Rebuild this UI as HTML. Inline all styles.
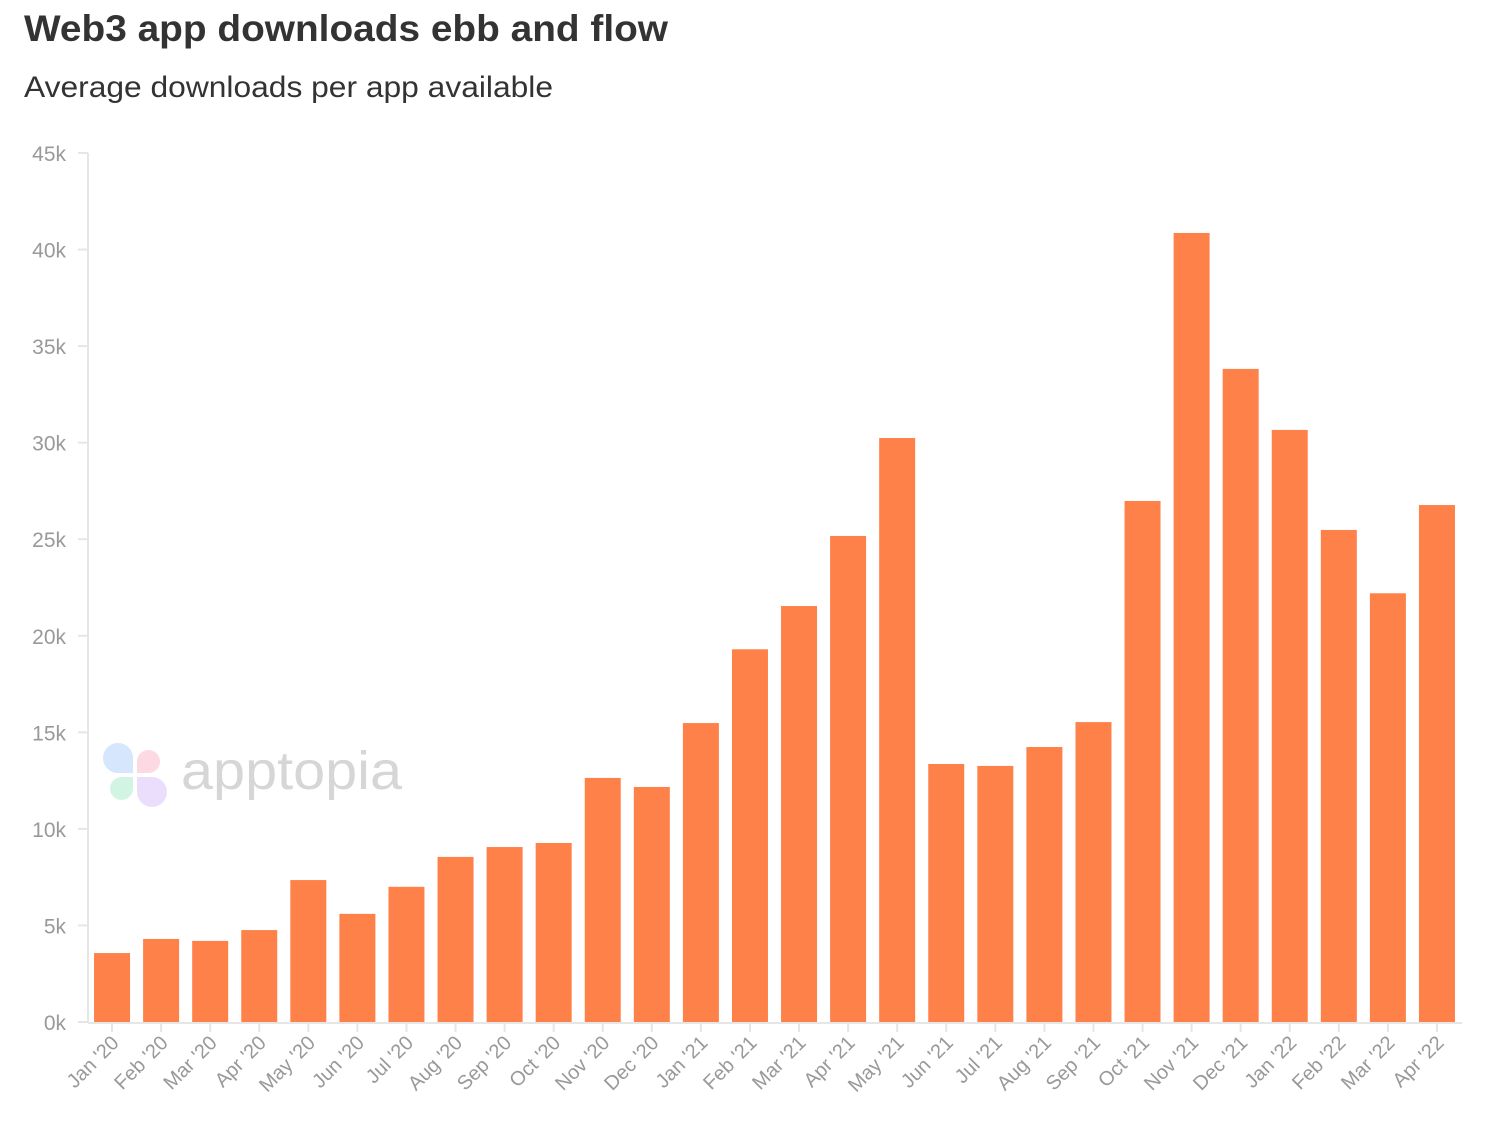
<!DOCTYPE html>
<html><head><meta charset="utf-8"><style>
body{margin:0;background:#fff;width:1500px;height:1128px;overflow:hidden;font-family:"Liberation Sans",sans-serif}
</style></head><body>
<svg width="1500" height="1128" xmlns="http://www.w3.org/2000/svg">
<text x="24" y="41" font-size="37" font-weight="bold" fill="#333" textLength="644" lengthAdjust="spacingAndGlyphs">Web3 app downloads ebb and flow</text>
<text x="24" y="97" font-size="30" fill="#333" textLength="529" lengthAdjust="spacingAndGlyphs">Average downloads per app available</text>
<g>
<path d="M118 743a15 15 0 0 1 15 15v15h-15a15 15 0 0 1 0-30z" fill="#d6e6fd"/>
<path d="M137 773v-12a11.5 11.5 0 1 1 11.5 12z" fill="#fdd9e3"/>
<path d="M133 777v12a11.5 11.5 0 1 1-11.5-12z" fill="#d2f5e3"/>
<path d="M137 777h15a15 15 0 1 1-15 15z" fill="#ebdefc"/>
<text x="181" y="789" font-size="54" fill="#d6d6d6" textLength="221" lengthAdjust="spacingAndGlyphs">apptopia</text>
</g>
<g id="yaxis"></g>
<g id="bars"></g>
<g id="xaxis"></g>
</svg>
<script>
const categories=["Jan '20","Feb '20","Mar '20","Apr '20","May '20","Jun '20","Jul '20","Aug '20","Sep '20","Oct '20","Nov '20","Dec '20","Jan '21","Feb '21","Mar '21","Apr '21","May '21","Jun '21","Jul '21","Aug '21","Sep '21","Oct '21","Nov '21","Dec '21","Jan '22","Feb '22","Mar '22","Apr '22"];
const values=[3570,4300,4200,4760,7350,5600,7000,8550,9060,9270,12640,12170,15480,19300,21540,25170,30240,13360,13260,14240,15530,26980,40860,33820,30660,25480,22200,26770];
const yTicks=[0,5000,10000,15000,20000,25000,30000,35000,40000,45000];
const yTickLabels=["0k","5k","10k","15k","20k","25k","30k","35k","40k","45k"];
const NS="http://www.w3.org/2000/svg";
const y0=1022,yTop=153,yMax=45000,xL=88,xR=1462;
const y=v=>y0-(v/yMax)*(y0-yTop);
const step=(xR-xL)/categories.length;
const xc=i=>xL+step*(i+0.5)-0.5;
const bw=36;
function mk(t,a,p){const e=document.createElementNS(NS,t);for(const k in a)e.setAttribute(k,a[k]);p.appendChild(e);return e;}
const ya=document.getElementById('yaxis'),ba=document.getElementById('bars'),xa=document.getElementById('xaxis');
const axl=mk('line',{x1:xL,x2:xL,y1:yTop,y2:y0,stroke:'#e6e6e6','stroke-width':2},ya);


yTicks.forEach((v,i)=>{
 const t=mk('text',{x:66,y:y(v)+8,'font-size':21,fill:'#999','text-anchor':'end'},ya);
 t.textContent=yTickLabels[i];
 
 
 const tk=mk('line',{x1:xL-10,x2:xL,y1:y(v),y2:y(v),stroke:'#e6e6e6','stroke-width':2},ya);
 
 
});
const xl=mk('line',{x1:xL,x2:xR,y1:y0+1,y2:y0+1,stroke:'#e6e6e6','stroke-width':2},xa);


values.forEach((v,i)=>{
 const r=mk('rect',{x:xc(i)-bw/2,y:y(v),width:bw,height:y0-y(v),fill:'#ff814a'},ba);
 
 
});
categories.forEach((c,i)=>{
 const tk=mk('line',{x1:xc(i),x2:xc(i),y1:y0,y2:y0+10,stroke:'#e6e6e6','stroke-width':2},xa);
 
 
 const t=mk('text',{x:xc(i)+8,y:y0+22,'font-size':20,fill:'#999','text-anchor':'end',transform:`rotate(-45 ${xc(i)+8} ${y0+22})`},xa);
 t.textContent=c;
 
 
});
</script>
</body></html>
